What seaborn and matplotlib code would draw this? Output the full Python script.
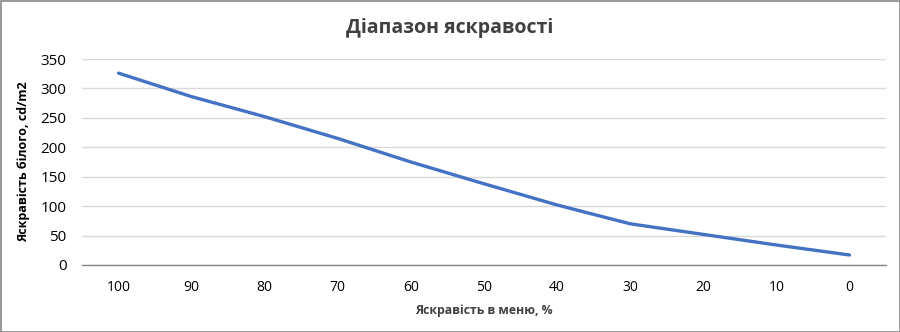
import matplotlib
matplotlib.use("Agg")
import matplotlib.pyplot as plt
import seaborn as sns
import pandas as pd
from matplotlib.patches import Rectangle

categories = ["100", "90", "80", "70", "60", "50", "40", "30", "20", "10", "0"]
brightness = [326, 286, 252, 215, 175, 138, 102, 70, 52, 34, 17]
y_ticks = [0, 50, 100, 150, 200, 250, 300, 350]

title = "Діапазон яскравості"
x_label = "Яскравість в меню, %"
y_label = "Яскравість білого, cd/m2"

sns.set_theme(style="white")
plt.rcParams['font.family'] = ['Open Sans', 'DejaVu Sans']

df = pd.DataFrame({"menu": categories, "white": brightness})

fig = plt.figure(figsize=(9, 3.32), dpi=100)
ax = fig.add_axes([82/900, 1-265/332, (886-82)/900, (265-59)/332])

sns.lineplot(data=df, x="menu", y="white", sort=False, color="#4472C4",
             linewidth=2.4, ax=ax)

ax.set_xlim(-0.5, len(categories) - 0.5)
ax.set_ylim(0, 350)
ax.set_yticks(y_ticks)
ax.yaxis.grid(True, color="#D9D9D9", linewidth=1)
ax.xaxis.grid(False)
ax.set_axisbelow(True)
for s in ["left", "right", "top"]:
    ax.spines[s].set_visible(False)
ax.spines["bottom"].set_color("#868686")
ax.spines["bottom"].set_linewidth(1)
ax.tick_params(axis="both", length=0, colors="#000000")
ax.tick_params(axis="x", labelsize=10, pad=11)
ax.tick_params(axis="y", labelsize=11, pad=11)

ax.set_xlabel(x_label, fontsize=8.8, fontweight="bold", color="#404040", labelpad=6)
ax.set_ylabel(y_label, fontsize=9, fontweight="bold", color="#000000", labelpad=8)

fig.text(0.5, 1-28/332, title, ha="center", va="center", fontsize=14,
         fontweight="bold", color="#404040")

fig.patches.append(Rectangle((0.5/900, 0.5/332), 1-1/900, 1-1/332,
                             transform=fig.transFigure, fill=False,
                             edgecolor="#878787", linewidth=1.2))

fig.savefig("out.png", dpi=100)
